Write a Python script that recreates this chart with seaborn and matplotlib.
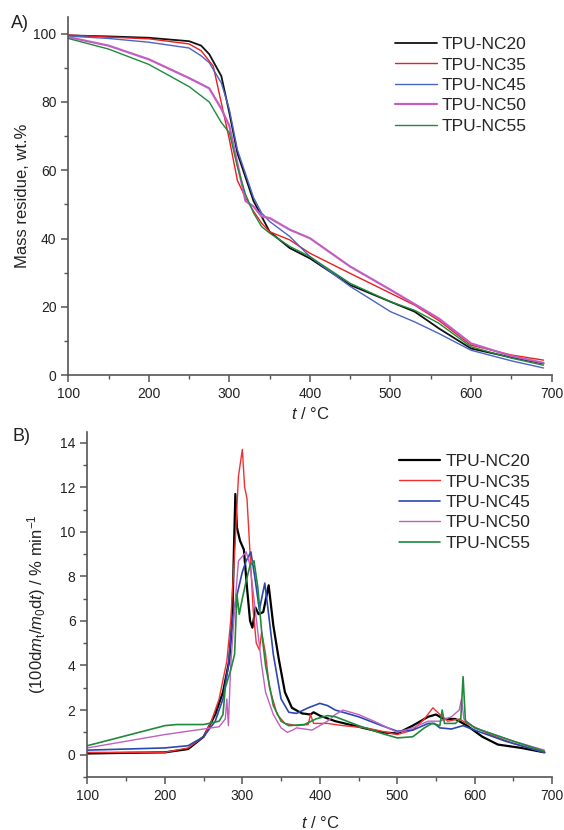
import numpy as np
import matplotlib
matplotlib.use("Agg")
import matplotlib.pyplot as plt
from matplotlib.ticker import MultipleLocator
import seaborn as sns

# dane TGA (panel A): temperatura i masa resztkowa
SERIES = ["TPU-NC20", "TPU-NC35", "TPU-NC45", "TPU-NC50", "TPU-NC55"]

tga_t_nc20 = [100, 150, 200, 250, 265, 275, 290, 300, 310, 320, 330, 340, 350, 375, 400, 450, 500, 530, 560, 600, 650, 690]
tga_m_nc20 = [99.5, 99.2, 98.8, 97.8, 96.5, 94, 87.6, 76.8, 65, 58, 51, 46.5, 42, 37.2, 34.2, 26.4, 21.5, 18.6, 13.7, 7.8, 5.2, 3.4]

tga_t_nc35 = [100, 150, 200, 250, 265, 280, 300, 310, 320, 330, 340, 350, 375, 400, 450, 500, 530, 560, 600, 650, 690]
tga_m_nc35 = [99.6, 99, 98.5, 97, 95, 90.5, 69, 57, 52, 48, 44.5, 42, 39.6, 35.7, 29.8, 24, 20.5, 16, 8.8, 5.9, 4.4]

tga_t_nc45 = [100, 150, 200, 250, 265, 275, 290, 300, 310, 320, 330, 340, 350, 375, 400, 450, 500, 530, 560, 600, 650, 690]
tga_m_nc45 = [99.3, 98.6, 97.5, 95.8, 93.5, 91.5, 85.6, 77.8, 66, 59, 52, 47.5, 45, 40.6, 34.7, 26, 18.6, 15.6, 12.2, 7.3, 4.2, 2.1]

tga_t_nc50 = [100, 150, 200, 250, 275, 290, 300, 310, 320, 330, 340, 350, 375, 400, 450, 500, 530, 560, 600, 650, 690]
tga_m_nc50 = [99, 96.5, 92.5, 87, 84, 78, 73, 62, 51, 49.4, 46.5, 46, 42.6, 40.1, 31.8, 25, 20.8, 16.6, 9.3, 5.6, 3.6]

tga_t_nc55 = [100, 150, 200, 250, 275, 290, 300, 310, 320, 330, 340, 350, 375, 400, 450, 500, 530, 560, 600, 650, 690]
tga_m_nc55 = [98.6, 95.5, 91, 84.5, 80, 74, 71, 61, 53, 47.5, 43.5, 41.6, 37.7, 34.7, 26.9, 21.5, 19, 15.2, 8.3, 5.0, 2.9]

# dane DTG (panel B): temperatura i szybkość ubytku masy
dtg_t_nc20 = [100, 150, 200, 230, 250, 265, 275, 283, 287, 289, 291, 293, 297, 302, 306, 310, 313, 317, 321, 327, 334, 340, 347, 355, 364, 377, 388, 392, 400, 420, 450, 480, 500, 520, 540, 550, 560, 575, 590, 610, 630, 660, 690]
dtg_v_nc20 = [0.05, 0.08, 0.1, 0.25, 0.8, 1.8, 2.8, 4.2, 6, 9, 11.7, 10.2, 9.6, 9.2, 7.5, 6.0, 5.7, 6.6, 6.3, 6.4, 7.6, 5.8, 4.3, 2.8, 2.1, 1.85, 1.8, 1.9, 1.75, 1.5, 1.25, 1.0, 0.95, 1.3, 1.7, 1.8, 1.6, 1.6, 1.3, 0.8, 0.45, 0.3, 0.1]

dtg_t_nc35 = [100, 200, 230, 250, 260, 270, 280, 285, 290, 295, 300, 303, 306, 310, 314, 318, 322, 325, 330, 335, 345, 355, 370, 385, 388, 392, 410, 430, 460, 500, 520, 535, 546, 555, 565, 580, 590, 620, 650, 690]
dtg_v_nc35 = [0.1, 0.1, 0.3, 0.8, 1.5, 2.5, 4.2, 6, 9, 12.5, 13.7, 12, 11.5, 9, 6.5, 5.0, 4.7, 5.5, 4.5, 3, 1.8, 1.4, 1.3, 1.35, 1.8, 1.4, 1.4, 1.3, 1.2, 0.9, 1.1, 1.6, 2.1, 1.8, 1.5, 1.6, 1.4, 0.9, 0.5, 0.1]

dtg_t_nc45 = [100, 150, 200, 230, 250, 265, 275, 282, 287, 292, 300, 305, 311, 316, 322, 329, 335, 340, 350, 360, 370, 385, 400, 410, 420, 450, 480, 500, 520, 540, 548, 555, 570, 585, 600, 640, 690]
dtg_v_nc45 = [0.2, 0.25, 0.3, 0.4, 0.8, 1.5, 2.5, 4, 6, 7, 8.2, 8.7, 9.1, 8.0, 6.5, 7.7, 6.0, 4.5, 2.5, 1.9, 1.85, 2.1, 2.3, 2.2, 2.0, 1.7, 1.3, 1.05, 1.1, 1.4, 1.4, 1.2, 1.15, 1.3, 1.1, 0.6, 0.1]

dtg_t_nc50 = [100, 150, 200, 250, 270, 278, 280, 282, 285, 290, 295, 300, 305, 310, 315, 320, 325, 330, 340, 350, 358, 365, 370, 380, 390, 400, 410, 420, 430, 450, 470, 500, 520, 540, 555, 570, 580, 583, 586, 600, 650, 690]
dtg_v_nc50 = [0.3, 0.6, 0.9, 1.15, 1.25, 1.6, 2.5, 1.3, 4, 6.5, 8.7, 8.9, 9.1, 8.5, 7, 5.5, 4, 2.8, 1.8, 1.2, 1.0, 1.1, 1.2, 1.15, 1.1, 1.3, 1.5, 1.8, 2.0, 1.8, 1.5, 1.0, 1.2, 1.5, 1.5, 1.7, 2.0, 2.5, 1.6, 1.2, 0.6, 0.2]

dtg_t_nc55 = [100, 150, 200, 215, 250, 270, 275, 278, 285, 290, 293, 296, 300, 305, 310, 315, 320, 325, 330, 340, 350, 360, 380, 395, 410, 420, 450, 480, 500, 520, 535, 545, 555, 558, 561, 575, 582, 585, 588, 600, 650, 690]
dtg_v_nc55 = [0.4, 0.85, 1.3, 1.35, 1.35, 1.5, 1.8, 3, 3.8, 4.5, 7.2, 6.3, 7, 7.8, 8.5, 8.7, 7.5, 5.5, 4, 2.2, 1.5, 1.3, 1.35, 1.6, 1.75, 1.7, 1.3, 0.95, 0.75, 0.8, 1.2, 1.4, 1.3, 2.0, 1.4, 1.4, 1.6, 3.5, 1.5, 1.2, 0.6, 0.15]

tga_data = [(tga_t_nc20, tga_m_nc20), (tga_t_nc35, tga_m_nc35), (tga_t_nc45, tga_m_nc45),
            (tga_t_nc50, tga_m_nc50), (tga_t_nc55, tga_m_nc55)]
dtg_data = [(dtg_t_nc20, dtg_v_nc20), (dtg_t_nc35, dtg_v_nc35), (dtg_t_nc45, dtg_v_nc45),
            (dtg_t_nc50, dtg_v_nc50), (dtg_t_nc55, dtg_v_nc55)]

colors_a = ["#111111", "#ee1c1c", "#4a64c8", "#c25ec2", "#1f8a3c"]
colors_b = ["#000000", "#f03030", "#2c48b0", "#c060c0", "#1f8a3c"]
lw_a = [1.3, 1.0, 1.0, 1.6, 1.0]
lw_b = [1.6, 1.0, 1.2, 1.0, 1.2]

sns.set_style("ticks")
plt.rcParams['font.family'] = ['Liberation Sans', 'DejaVu Sans']
plt.rcParams['mathtext.fontset'] = 'custom'
plt.rcParams['mathtext.rm'] = 'Liberation Sans'
plt.rcParams['mathtext.it'] = 'Liberation Sans:italic'

fig = plt.figure(figsize=(5.64, 8.3), dpi=100)
ax_a = fig.add_axes([0.121, 0.548, 0.857, 0.432])
ax_b = fig.add_axes([0.155, 0.064, 0.824, 0.416])


def style_axis(ax):
    for side in ["top", "right"]:
        ax.spines[side].set_visible(False)
    for side in ["left", "bottom"]:
        ax.spines[side].set_color("#555555")
        ax.spines[side].set_linewidth(1.2)
    ax.tick_params(which="major", direction="out", length=5, width=1.1, color="#555555",
                   labelsize=10, labelcolor="#222222")
    ax.tick_params(which="minor", direction="out", length=3, width=1.0, color="#555555")


# panel A - TGA
for (t, m), name, c, lw in zip(tga_data, SERIES, colors_a, lw_a):
    sns.lineplot(x=t, y=m, ax=ax_a, color=c, linewidth=lw, label=name, sort=False, estimator=None)

ax_a.set_xlim(100, 700)
ax_a.set_ylim(0, 105)
ax_a.xaxis.set_major_locator(MultipleLocator(100))
ax_a.xaxis.set_minor_locator(MultipleLocator(50))
ax_a.yaxis.set_major_locator(MultipleLocator(20))
ax_a.yaxis.set_minor_locator(MultipleLocator(10))
style_axis(ax_a)
ax_a.set_xlabel(r"$t$ / °C", fontsize=12, color="#222222")
ax_a.set_ylabel("Mass residue, wt.%", fontsize=12, color="#222222")
ax_a.xaxis.set_label_coords(0.5, -0.085)
ax_a.yaxis.set_label_coords(-0.08, 0.5)
ax_a.legend(loc="upper left", bbox_to_anchor=(0.676, 0.943), frameon=False, fontsize=12.5,
            handlelength=2.4, handletextpad=0.3, labelspacing=0.3, borderpad=0, borderaxespad=0)

# panel B - DTG
for (t, v), name, c, lw in zip(dtg_data, SERIES, colors_b, lw_b):
    sns.lineplot(x=t, y=v, ax=ax_b, color=c, linewidth=lw, label=name, sort=False, estimator=None)

ax_b.set_xlim(100, 700)
ax_b.set_ylim(-1, 14.5)
ax_b.xaxis.set_major_locator(MultipleLocator(100))
ax_b.xaxis.set_minor_locator(MultipleLocator(50))
ax_b.yaxis.set_major_locator(MultipleLocator(2))
ax_b.yaxis.set_minor_locator(MultipleLocator(1))
ax_b.set_yticks([0, 2, 4, 6, 8, 10, 12, 14])
style_axis(ax_b)
ax_b.set_xlabel(r"$t$ / °C", fontsize=12, color="#222222")
ax_b.set_ylabel(r"(100d$m_\mathrm{t}$/$m_0$d$t$) / % min$^{-1}$", fontsize=12, color="#222222")
ax_b.xaxis.set_label_coords(0.5, -0.11)
ax_b.yaxis.set_label_coords(-0.085, 0.5)
ax_b.legend(loc="upper left", bbox_to_anchor=(0.67, 0.935), frameon=False, fontsize=12.5,
            handlelength=2.4, handletextpad=0.3, labelspacing=0.3, borderpad=0, borderaxespad=0)

fig.text(0.02, 1 - 24 / 830, "A)", fontsize=13, va="center", ha="left", color="#222222")
fig.text(0.022, 1 - 436 / 830, "B)", fontsize=13, va="center", ha="left", color="#222222")

fig.savefig("out.png", dpi=100)
